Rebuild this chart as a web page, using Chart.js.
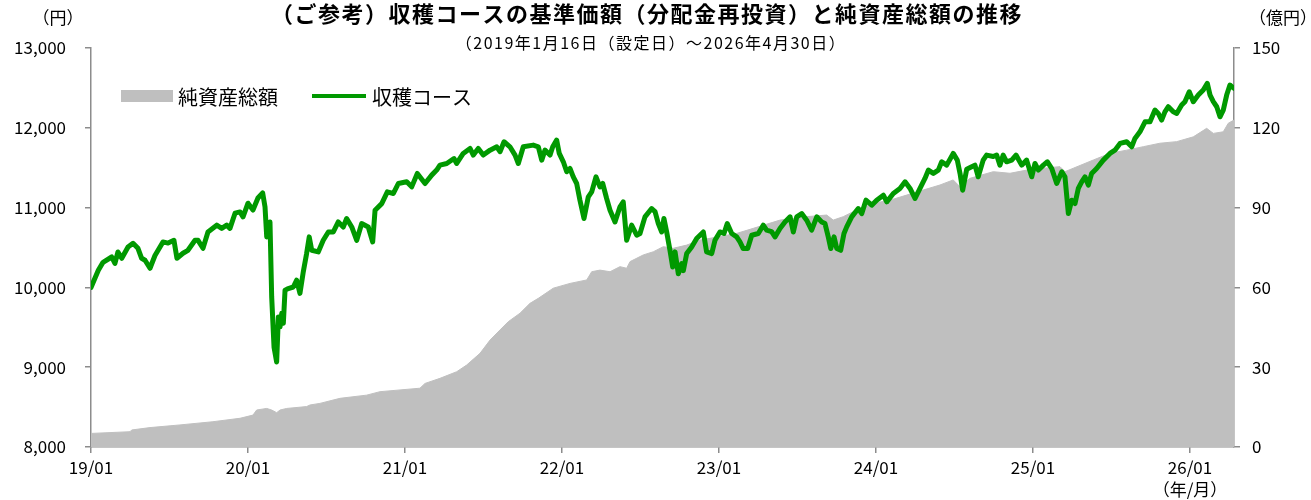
<!DOCTYPE html>
<html>
<head>
<meta charset="utf-8">
<script src="https://cdn.jsdelivr.net/npm/chart.js@4"></script>
<style>
  html, body { margin: 0; padding: 0; background: #fff; }
  #wrap { width: 1311px; height: 500px; position: relative; }
</style>
</head>
<body>
<div id="wrap"><canvas id="stage"></canvas></div>
<script>
// 設定日(2019/01/16)からの経過月数
var navMonths = [0, 0.56, 0.92, 1.58, 1.83, 2.06, 2.35, 2.83, 3.21, 3.59, 3.87, 4.13, 4.51, 4.89, 5.5, 5.89, 6.34, 6.57, 7.03, 7.41,
  7.95, 8.18, 8.56, 8.94, 9.61, 9.99, 10.37, 10.62, 11.01, 11.39, 11.62, 12.0, 12.38, 12.76, 13.12, 13.3, 13.43, 13.68, 13.81, 13.99,
  14.19, 14.32, 14.45, 14.58, 14.7, 14.83, 15.08, 15.46, 15.72, 15.97, 16.23, 16.48, 16.68, 16.87, 17.37, 17.75, 18.14, 18.52, 18.9, 19.28,
  19.54, 19.93, 20.31, 20.69, 21.19, 21.53, 21.71, 22.22, 22.65, 23.11, 23.49, 24.13, 24.51, 24.94, 25.53, 26.04, 26.42, 26.67, 27.19, 27.74,
  27.95, 28.45, 28.97, 29.22, 29.6, 29.98, 30.5, 31.01, 31.26, 31.57, 32.02, 32.41, 32.66, 33.04, 33.8, 34.19, 34.45, 34.7, 35.08, 35.29,
  35.59, 35.79, 36.1, 36.36, 36.61, 36.86, 37.12, 37.37, 37.68, 38.01, 38.27, 38.6, 38.9, 39.11, 39.41, 39.67, 40.05, 40.43, 40.68, 40.94,
  41.32, 41.71, 41.96, 42.34, 42.85, 43.11, 43.36, 43.62, 43.79, 44.0, 44.25, 44.46, 44.64, 44.89, 45.15, 45.27, 45.53, 45.91, 46.29, 46.8,
  47.05, 47.44, 47.69, 48.07, 48.38, 48.63, 48.97, 49.35, 49.6, 49.85, 50.19, 50.5, 51.0, 51.38, 51.64, 52.02, 52.28, 52.66, 53.04, 53.43,
  53.68, 53.94, 54.32, 54.7, 55.08, 55.47, 55.85, 56.1, 56.35, 56.54, 56.79, 57.0, 57.3, 57.55, 57.76, 58.14, 58.64, 58.91, 59.23, 59.67,
  60.05, 60.56, 60.82, 61.32, 61.83, 62.22, 62.6, 62.98, 63.36, 63.74, 64.0, 64.38, 64.76, 65.02, 65.4, 65.9, 66.21, 66.42, 66.62, 66.93,
  67.31, 67.56, 67.81, 68.19, 68.45, 68.96, 69.22, 69.47, 69.72, 69.98, 70.37, 70.7, 71.13, 71.51, 71.9, 72.15, 72.41, 72.79, 73.1, 73.43,
  73.81, 74.2, 74.44, 74.7, 74.96, 75.21, 75.46, 75.72, 75.97, 76.23, 76.48, 76.86, 77.37, 77.88, 78.26, 78.65, 79.16, 79.54, 79.79, 80.17,
  80.56, 80.94, 81.32, 81.57, 81.83, 82.08, 82.34, 82.72, 82.98, 83.36, 83.61, 83.94, 84.25, 84.63, 85.01, 85.32, 85.53, 85.78, 86.04, 86.29,
  86.54, 86.8, 87.05, 87.36];
// 収穫コース 基準価額(分配金再投資) [円]
var navValues = [10000, 10214, 10315, 10381, 10300, 10444, 10365, 10507, 10553, 10490, 10365, 10340, 10240, 10400, 10570, 10555, 10590, 10365, 10428, 10465,
  10590, 10590, 10490, 10695, 10780, 10740, 10780, 10740, 10930, 10946, 10884, 11055, 10970, 11120, 11185, 11010, 10633, 10820, 9880, 9250,
  9065, 9630, 9505, 9675, 9550, 9965, 9985, 10005, 10090, 9925, 10200, 10425, 10633, 10465, 10445, 10590, 10695, 10695, 10820, 10757,
  10863, 10757, 10590, 10800, 10757, 10570, 10967, 11050, 11197, 11177, 11302, 11323, 11260, 11428, 11302, 11407, 11470, 11532, 11553, 11615,
  11553, 11679, 11741, 11658, 11741, 11658, 11720, 11762, 11700, 11825, 11762, 11658, 11553, 11762, 11783, 11762, 11595, 11720, 11658, 11762,
  11846, 11679, 11574, 11449, 11490, 11386, 11302, 11093, 10863, 11135, 11197, 11386, 11260, 11302, 11114, 10967, 10820, 11010, 11072, 10590,
  10780, 10654, 10675, 10884, 10988, 10950, 10800, 10695, 10863, 10695, 10465, 10256, 10445, 10170, 10298, 10210, 10424, 10507, 10612, 10695,
  10445, 10424, 10590, 10695, 10675, 10800, 10675, 10633, 10570, 10487, 10487, 10654, 10675, 10780, 10717, 10700, 10633, 10738, 10820, 10884,
  10695, 10884, 10925, 10842, 10717, 10884, 10820, 10800, 10633, 10487, 10633, 10487, 10465, 10675, 10758, 10884, 10988, 10925, 11093, 11030,
  11093, 11155, 11072, 11177, 11240, 11323, 11240, 11114, 11240, 11365, 11470, 11428, 11470, 11574, 11532, 11679, 11595, 11428, 11218, 11480,
  11511, 11532, 11386, 11595, 11658, 11640, 11658, 11532, 11658, 11574, 11595, 11658, 11532, 11595, 11386, 11553, 11470, 11532, 11574, 11490,
  11302, 11449, 11386, 10925, 11093, 11051, 11240, 11323, 11386, 11281, 11428, 11490, 11595, 11679, 11720, 11804, 11825, 11762, 11867, 11950,
  12075, 12075, 12222, 12180, 12097, 12200, 12264, 12200, 12180, 12285, 12327, 12452, 12327, 12410, 12473, 12557, 12410, 12327, 12264, 12138,
  12222, 12410, 12536, 12494];

var assetMonths = [0, 2.98, 3.11, 4.51, 6.8, 9.32, 11.39, 12.38, 12.66, 13.43, 13.81, 14.19, 14.45, 14.96, 16.48, 16.74, 17.5, 19.03, 21.07, 22.09,
  25.14, 25.53, 26.67, 27.95, 28.71, 29.73, 30.5, 31.26, 31.89, 32.79, 33.55, 34.19, 35.33, 36.61, 37.89, 38.27, 38.9, 39.67, 40.43, 40.94,
  41.2, 42.21, 42.98, 43.74, 44.5, 45.53, 46.54, 48.07, 49.35, 50.62, 52.66, 54.7, 56.23, 56.73, 57.5, 58.52, 59.79, 61.07, 62.34, 63.61,
  64.89, 65.9, 66.42, 67.18, 68.96, 70.24, 71.51, 72.79, 74.06, 74.44, 75.08, 76.61, 77.88, 79.16, 80.43, 81.7, 82.98, 84.25, 85.27, 85.78,
  86.54, 86.92, 87.36];
// 純資産総額 [億円]
var assetValues = [5.1, 5.75, 6.4, 7.3, 8.3, 9.5, 10.8, 12.0, 13.9, 14.5, 13.9, 12.9, 13.9, 14.5, 15.2, 15.8, 16.4, 18.3, 19.5, 20.8,
  22.1, 23.9, 25.8, 28.3, 30.8, 35.2, 40.2, 44.0, 47.1, 50.3, 54.0, 55.9, 59.7, 61.5, 62.8, 65.9, 66.5, 65.9, 67.8, 67.2,
  69.7, 72.2, 73.4, 75.3, 74.7, 75.9, 77.8, 79.1, 80.3, 82.2, 85.3, 86.6, 87.2, 85.3, 86.6, 89.1, 91.6, 92.8, 94.7, 96.6,
  98.5, 100.4, 97.8, 101.0, 103.5, 102.9, 104.1, 104.8, 105.4, 103.5, 104.8, 107.9, 110.4, 111.6, 112.9, 114.2, 114.8, 116.6, 119.8, 117.9,
  118.5, 121.7, 122.9];

var yearLabels = ['19/01', '20/01', '21/01', '22/01', '23/01', '24/01', '25/01', '26/01'];
var lastMonth = 87.36;

var GREEN = '#009900';
var GRAY = '#bfbfbf';
var AXIS = '#8c8c8c';
var FONT = "'Noto Sans CJK JP', 'Noto Sans', sans-serif";

function toPoints(xs, ys) {
  return xs.map(function (x, i) { return { x: x, y: ys[i] }; });
}

// タイトル・単位・凡例を描く
var decor = {
  id: 'decor',
  afterDraw: function (chart) {
    var ctx = chart.ctx;
    ctx.save();
    ctx.fillStyle = '#000';
    ctx.textBaseline = 'middle';
    ctx.textAlign = 'center';
    ctx.font = 'bold 22px ' + FONT;
    ctx.letterSpacing = '1.5px';
    ctx.fillText('（ご参考）収穫コースの基準価額（分配金再投資）と純資産総額の推移', 647, 14);
    ctx.font = '16px ' + FONT;
    ctx.letterSpacing = '1.5px';
    ctx.fillText('（2019年1月16日（設定日）～2026年4月30日）', 651, 43);
    ctx.letterSpacing = '0px';
    ctx.font = '17px ' + FONT;
    ctx.fillText('（円）', 58, 18);
    ctx.fillText('（億円）', 1283, 18);

    // 凡例
    ctx.textAlign = 'left';
    ctx.font = '20px ' + FONT;
    ctx.fillStyle = GRAY;
    ctx.fillRect(121, 90, 52, 12);
    ctx.fillStyle = '#000';
    ctx.fillText('純資産総額', 178, 97);
    ctx.strokeStyle = GREEN;
    ctx.lineWidth = 4;
    ctx.beginPath();
    ctx.moveTo(312, 96);
    ctx.lineTo(366, 96);
    ctx.stroke();
    ctx.fillText('収穫コース', 372, 97);
    ctx.restore();
  }
};

new Chart(document.getElementById('stage'), {
  type: 'line',
  data: {
    datasets: [
      {
        label: '収穫コース',
        data: toPoints(navMonths, navValues),
        borderColor: GREEN,
        borderWidth: 5,
        borderJoinStyle: 'round',
        borderCapStyle: 'round',
        pointRadius: 0,
        tension: 0,
        fill: false,
        yAxisID: 'y',
        order: 0
      },
      {
        label: '純資産総額',
        data: toPoints(assetMonths, assetValues),
        borderColor: GRAY,
        borderWidth: 1,
        backgroundColor: GRAY,
        pointRadius: 0,
        tension: 0,
        fill: 'origin',
        yAxisID: 'y1',
        order: 1
      }
    ]
  },
  options: {
    responsive: true,
    maintainAspectRatio: false,
    animation: false,
    layout: { padding: { top: 48, left: 0, right: 0, bottom: 0 } },
    plugins: {
      legend: { display: false },
      tooltip: { enabled: false }
    },
    scales: {
      x: {
        type: 'linear',
        min: 0,
        max: lastMonth,
        afterFit: function (s) { s.height = 53; },
        border: { color: AXIS, width: 1.5 },
        grid: { drawOnChartArea: false, drawTicks: true, tickLength: 6, color: AXIS, lineWidth: 1.5 },
        ticks: {
          stepSize: 12,
          includeBounds: false,
          autoSkip: false,
          maxRotation: 0,
          padding: 3,
          color: '#000',
          font: { family: FONT, size: 17, lineHeight: 1.3 },
          callback: function (v) {
            var i = Math.round(v / 12);
            if (i === yearLabels.length - 1) return [yearLabels[i], '（年/月）'];
            return yearLabels[i];
          }
        }
      },
      y: {
        position: 'left',
        min: 8000,
        max: 13000,
        afterFit: function (s) { s.width = 91; },
        border: { color: AXIS, width: 1.5 },
        grid: { drawOnChartArea: false, drawTicks: true, tickLength: 6, color: AXIS, lineWidth: 1.5 },
        ticks: {
          stepSize: 1000,
          padding: 19,
          color: '#000',
          font: { family: FONT, size: 17 },
          callback: function (v) { return v.toLocaleString('en-US'); }
        }
      },
      y1: {
        position: 'right',
        min: 0,
        max: 150,
        afterFit: function (s) { s.width = 77; },
        border: { color: AXIS, width: 1.5 },
        grid: { drawOnChartArea: false, drawTicks: true, tickLength: 6, color: AXIS, lineWidth: 1.5 },
        ticks: {
          stepSize: 30,
          padding: 12,
          color: '#000',
          font: { family: FONT, size: 17 }
        }
      }
    }
  },
  plugins: [decor]
});
</script>
</body>
</html>
